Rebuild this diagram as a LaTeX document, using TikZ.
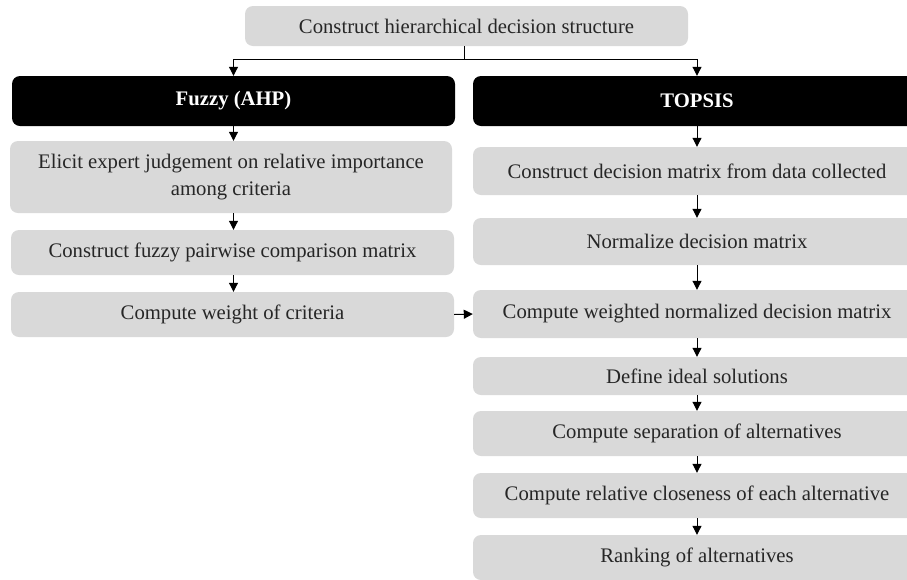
\documentclass[tikz,border=0pt]{standalone}
\usepackage{fontspec}
\setmainfont{Liberation Serif}
\usetikzlibrary{arrows.meta}
\definecolor{boxgray}{HTML}{D9D9D9}
\tikzset{
  gbox/.style={fill=boxgray, rounded corners=8pt, inner sep=2pt, align=center,
    font=\fontsize{20.7}{27}\selectfont, text=black!85},
  bbox/.style={fill=black, rounded corners=8pt, inner sep=2pt, align=center,
    font=\fontsize{20.7}{24}\selectfont\bfseries, text=white},
  arr/.style={line width=1pt, -{Triangle[width=9pt,length=9pt]}},
  ln/.style={line width=0.8pt}
}
\begin{document}
\begin{tikzpicture}[x=1pt,y=-1pt]
\useasboundingbox (0,0) rectangle (907,579);
\clip (0,0) rectangle (907,579);
\node[gbox, minimum width=443pt, minimum height=40pt] (top) at (466.5,26) {Construct hierarchical decision structure};
\node[bbox, minimum width=443pt, minimum height=50pt] (fuzzy) at (233.5,101) {Fuzzy (AHP)};
\node[bbox, minimum width=448pt, minimum height=50pt] (topsis) at (697,101) {TOPSIS};
% left column
\node[gbox, minimum width=442pt, minimum height=72pt] (elicit) at (231,177) {Elicit expert judgement on relative importance\\among criteria};
\node[gbox, minimum width=443pt, minimum height=45pt] (cfuzzy) at (232.5,252.5) {Construct fuzzy pairwise comparison matrix};
\node[gbox, minimum width=443pt, minimum height=45pt] (cw) at (232.5,314.5) {Compute weight of criteria};
% right column
\node[gbox, minimum width=448pt, minimum height=48pt] (r1) at (697,171) {Construct decision matrix from data collected};
\node[gbox, minimum width=448pt, minimum height=47pt] (r2) at (697,241.5) {Normalize decision matrix};
\node[gbox, minimum width=448pt, minimum height=48pt] (r3) at (697,314) {Compute weighted normalized decision matrix};
\node[gbox, minimum width=448pt, minimum height=38pt] (r4) at (697,376) {Define ideal solutions};
\node[gbox, minimum width=448pt, minimum height=45pt] (r5) at (697,433.5) {Compute separation of alternatives};
\node[gbox, minimum width=448pt, minimum height=45pt] (r6) at (697,495.5) {Compute relative closeness of each alternative};
\node[gbox, minimum width=448pt, minimum height=45pt] (r7) at (697,557.5) {Ranking of alternatives};
% top connector
\coordinate (jn) at (464,59);
\draw[ln] (top.south -| jn) -- (jn);
\draw[arr] (jn) -| (fuzzy.north);
\draw[arr] (jn) -| (topsis.north);
% left arrows
\draw[arr] (fuzzy.south) -- (elicit.north -| fuzzy.south);
\draw[arr] (elicit.south -| fuzzy.south) -- (cfuzzy.north -| fuzzy.south);
\draw[arr] (cfuzzy.south -| fuzzy.south) -- (cw.north -| fuzzy.south);
\draw[arr] (cw.east) -- (r3.west);
% right arrows
\draw[arr] (topsis.south) -- (r1.north);
\draw[arr] (r1.south) -- (r2.north);
\draw[arr] (r2.south) -- (r3.north);
\draw[arr] (r3.south) -- (r4.north);
\draw[arr] (r4.south) -- (r5.north);
\draw[arr] (r5.south) -- (r6.north);
\draw[arr] (r6.south) -- (r7.north);
\end{tikzpicture}
\end{document}
